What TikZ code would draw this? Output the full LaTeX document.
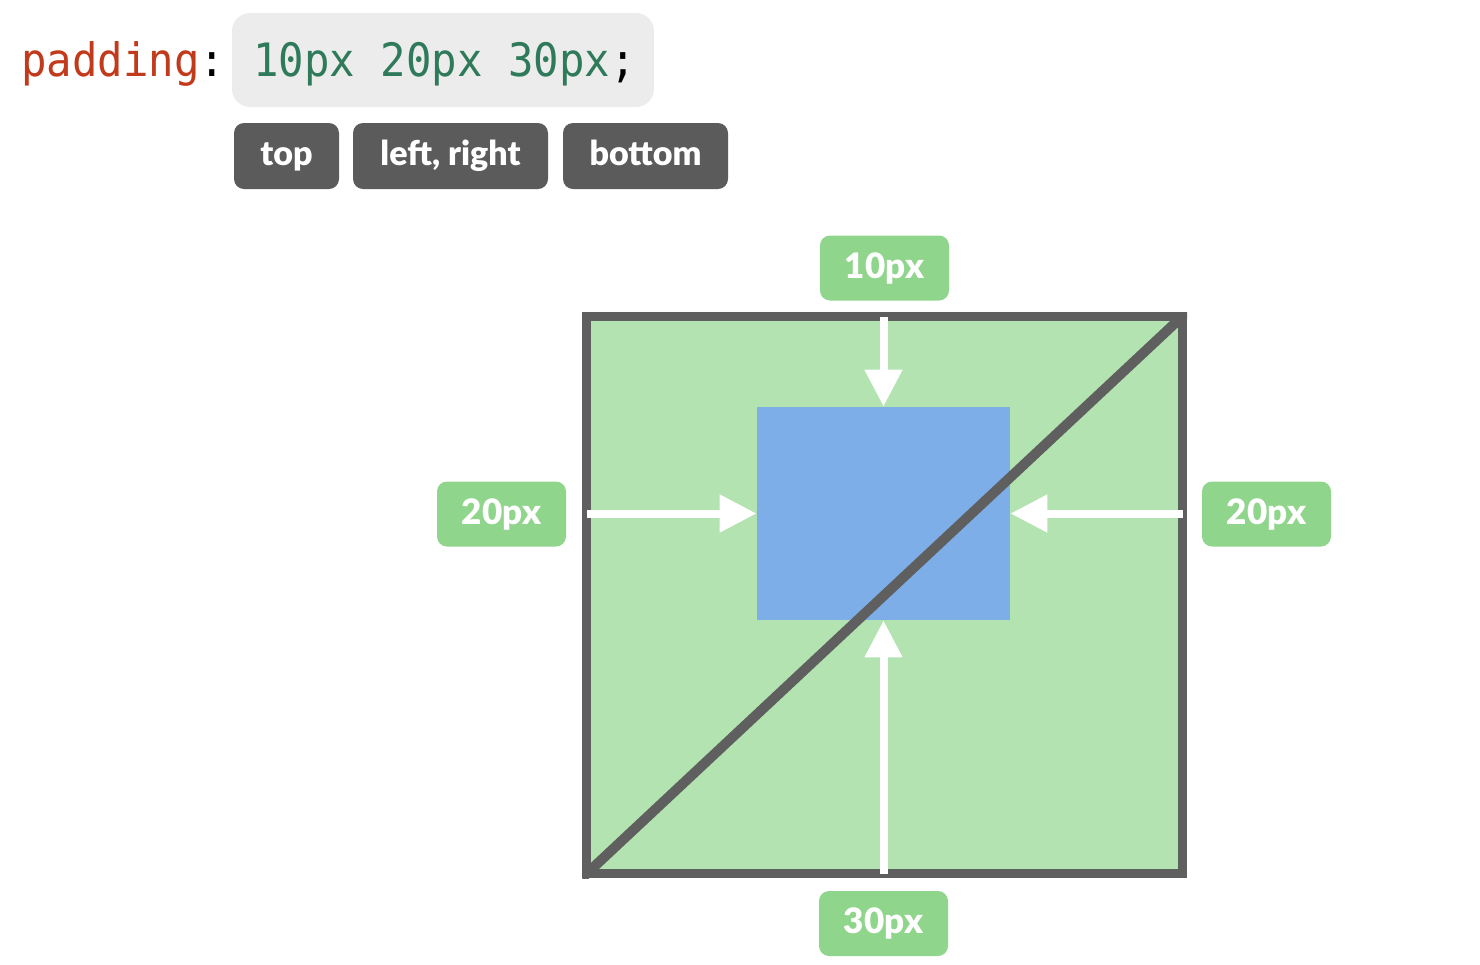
\documentclass[tikz,border=0pt]{standalone}
\usepackage{fontspec}
\newfontfamily\monofnt[FakeStretch=0.92]{DejaVu Sans Mono}
\newfontfamily\latofnt{Lato Black}
\usetikzlibrary{arrows.meta,calc}
\definecolor{codered}{HTML}{C23A1C}
\definecolor{codegreen}{HTML}{2F7A5A}
\definecolor{codebg}{HTML}{ECECEC}
\definecolor{btngray}{HTML}{5B5B5B}
\definecolor{bordergray}{HTML}{5F5F5F}
\definecolor{padgreen}{HTML}{B3E3B0}
\definecolor{labgreen}{HTML}{90D58C}
\definecolor{contentblue}{HTML}{7EAEE8}
\tikzset{
  codetext/.style={inner sep=0pt, anchor=base west, font=\monofnt\fontsize{23pt}{26pt}\selectfont},
  btnbox/.style={fill=btngray, rounded corners=5pt, minimum height=33pt, inner sep=0pt,
    text height=12.5pt, text depth=3.5pt,
    text=white, font=\latofnt\fontsize{17pt}{20pt}\selectfont},
  pxlabel/.style={fill=labgreen, rounded corners=5pt, minimum width=64.5pt, minimum height=32.5pt,
    inner sep=0pt, text height=12.5pt, text depth=2.5pt, text=white, font=\latofnt\fontsize{17.5pt}{20pt}\selectfont},
  padarrow/.style={draw=white, line width=4pt, -{Triangle[width=18pt,length=18.5pt]}},
  borderline/.style={draw=bordergray, line width=4.5pt}
}
\begin{document}
\begin{tikzpicture}[x=0.5pt,y=-0.5pt]
\useasboundingbox (0,0) rectangle (1480,965);
% code line
\node[fill=codebg, rounded corners=9pt, minimum width=211pt, minimum height=47pt, inner sep=0pt] (codebox) at (443,60) {};
\node[codetext, text=codered] (prop) at (21,76) {padding\textcolor{black}{:}};
\node[codetext, text=codegreen] (val) at (253,76) {10px 20px 30px\textcolor{black}{;}};
% buttons
\node[btnbox, minimum width=52.5pt] (btop) at (286.5,156) {top};
\node[btnbox, minimum width=97.5pt] (blr) at (450.5,156) {left, right};
\node[btnbox, minimum width=82.5pt] (bbot) at (645.5,156) {bottom};
% padding box
\node[fill=padgreen, borderline, minimum width=298pt, minimum height=278.5pt, inner sep=0pt] (box) at (884.5,595) {};
\node[fill=contentblue, minimum width=126.5pt, minimum height=106.5pt, inner sep=0pt] (content) at (883.5,513.5) {};
% arrows
\draw[padarrow] ($(content.north |- box.north)+(0,-2.25pt)$) -- (content.north);
\draw[padarrow] ($(content.south |- box.south)+(0,2.25pt)$) -- (content.south);
\draw[padarrow] ($(content.west -| box.west)+(2.25pt,0)$) -- (content.west);
\draw[padarrow] ($(content.east -| box.east)+(-2.25pt,0)$) -- (content.east);
% diagonal
\begin{scope}
\clip (box.south west) rectangle (box.north east);
\draw[borderline, line width=5pt] (box.south west) -- (box.north east);
\end{scope}
% labels
\node[pxlabel] (ltop) at (884.5,268) {10px};
\node[pxlabel] (lleft) at (501.5,514) {20px};
\node[pxlabel] (lright) at (1266.5,514) {20px};
\node[pxlabel] (lbot) at (883.5,923.5) {30px};
\end{tikzpicture}
\end{document}
